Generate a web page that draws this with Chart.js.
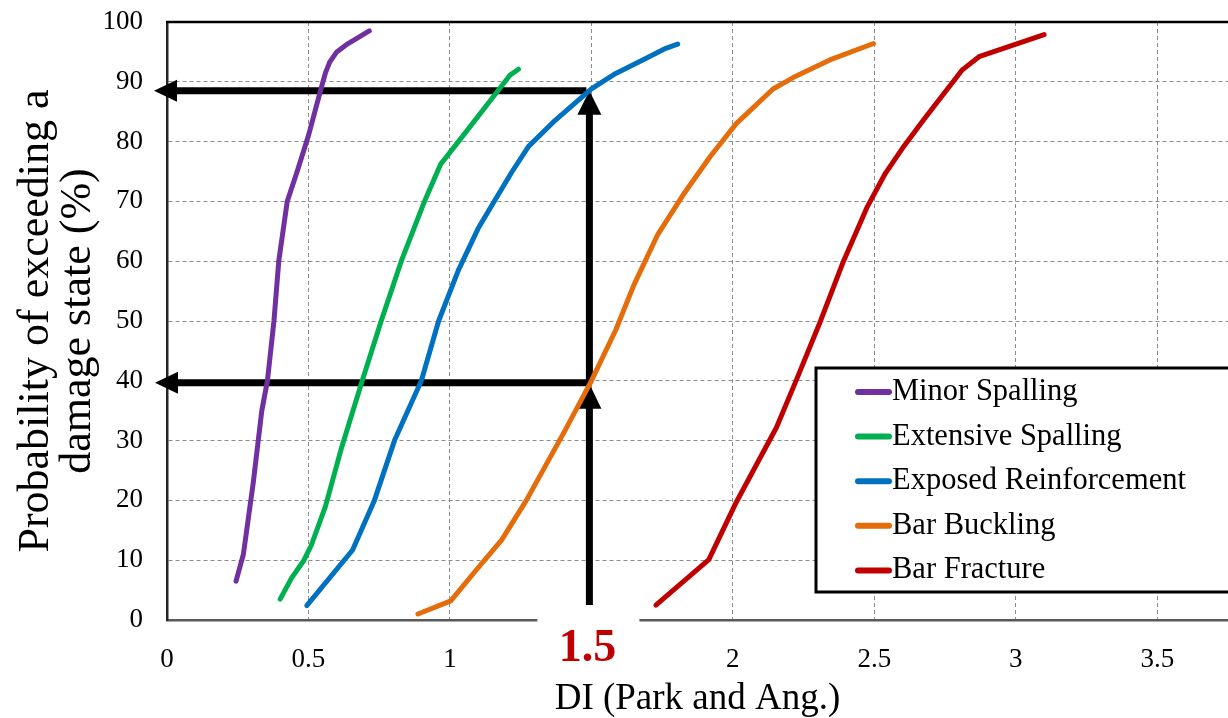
<!DOCTYPE html>
<html>
<head>
<meta charset="utf-8">
<script src="https://cdn.jsdelivr.net/npm/chart.js@4.4.1/dist/chart.umd.min.js"></script>
<style>
  html, body { margin: 0; padding: 0; background: #fff; }
  #wrap { width: 1228px; height: 718px; }
</style>
</head>
<body>
<div id="wrap"><canvas id="fragilityChart" width="1228" height="718"></canvas></div>
<script>
const SERIF = "'Liberation Serif', 'Times New Roman', serif";

// axis ticks
const X_TICKS = [0, 0.5, 1, 1.5, 2, 2.5, 3, 3.5];
const Y_TICKS = [0, 10, 20, 30, 40, 50, 60, 70, 80, 90, 100];
const X_MAX = 3.75;

// fragility curves: damage index (Park & Ang) vs probability of exceedance (%)
const minorDI = [0.244, 0.27, 0.305, 0.335, 0.355, 0.378, 0.395, 0.425, 0.46, 0.50, 0.543, 0.56, 0.575, 0.60, 0.64, 0.715];
const minorP  = [6.5, 11, 23, 35, 40, 50, 60, 70, 75, 81, 88.6, 91.5, 93.3, 95, 96.4, 98.5];

const extensiveDI = [0.40, 0.44, 0.484, 0.51, 0.56, 0.615, 0.69, 0.757, 0.828, 0.91, 0.967, 1.03, 1.171, 1.212, 1.242];
const extensiveP  = [3.5, 7, 10, 12.5, 19, 28.5, 40, 50, 60, 70, 76.2, 80, 88.6, 91.1, 92.1];

const exposedDI = [0.494, 0.656, 0.733, 0.804, 0.899, 0.96, 1.03, 1.1, 1.159, 1.22, 1.278, 1.373, 1.5, 1.586, 1.692, 1.763, 1.805];
const exposedP  = [2.4, 11.7, 20, 30, 40, 50, 58.5, 65.5, 70.2, 75, 79.2, 83.6, 88.8, 91.4, 93.9, 95.6, 96.3];

const bucklingDI = [0.887, 1.003, 1.09, 1.183, 1.27, 1.408, 1.5, 1.586, 1.65, 1.735, 1.83, 1.92, 2.012, 2.142, 2.213, 2.35, 2.497];
const bucklingP  = [1, 3.2, 8.2, 13.4, 20, 31.8, 40, 48.5, 56, 64.5, 71.5, 77.5, 83, 88.8, 90.7, 93.8, 96.4];

const fractureDI = [1.728, 1.915, 2.012, 2.154, 2.225, 2.308, 2.391, 2.474, 2.539, 2.604, 2.675, 2.811, 2.87, 3.1];
const fractureP  = [2.5, 10.1, 19.7, 32.2, 40.2, 49.8, 60, 69, 74.7, 79.2, 83.7, 92, 94.2, 97.9];

// read-off guide at DI = 1.5
const MARK_DI = 1.5;
const MARK_LOW = 40;
const MARK_HIGH = 88.5;
const ARROW_BASE = 2.5;

function points(di, p) {
  return di.map((d, i) => ({ x: d, y: p[i] }));
}

function series(label, di, p, color) {
  return {
    label: label,
    data: points(di, p),
    borderColor: color,
    backgroundColor: color,
    borderWidth: 5,
    borderCapStyle: 'round',
    borderJoinStyle: 'round',
    pointRadius: 0,
    tension: 0,
    fill: false
  };
}

function arrow(ctx, x1, y1, x2, y2, w, headLen, headHalf) {
  const len = Math.hypot(x2 - x1, y2 - y1);
  const ux = (x2 - x1) / len, uy = (y2 - y1) / len;
  const bx = x2 - ux * headLen, by = y2 - uy * headLen;
  ctx.lineWidth = w;
  ctx.lineCap = 'butt';
  ctx.beginPath();
  ctx.moveTo(x1, y1);
  ctx.lineTo(bx + ux, by + uy);
  ctx.stroke();
  ctx.beginPath();
  ctx.moveTo(x2, y2);
  ctx.lineTo(bx - uy * headHalf, by + ux * headHalf);
  ctx.lineTo(bx + uy * headHalf, by - ux * headHalf);
  ctx.closePath();
  ctx.fill();
}

const guidePlugin = {
  id: 'guides',
  beforeDatasetsDraw(chart) {
    const { ctx, chartArea: a, scales: { x, y } } = chart;
    ctx.save();
    // top frame
    ctx.strokeStyle = '#000';
    ctx.lineWidth = 2.5;
    ctx.beginPath();
    ctx.moveTo(a.left - 1, a.top);
    ctx.lineTo(a.right, a.top);
    ctx.stroke();

    const xm = x.getPixelForValue(MARK_DI);
    const yBase = y.getPixelForValue(ARROW_BASE);
    const yLow = y.getPixelForValue(MARK_LOW);
    const yHigh = y.getPixelForValue(MARK_HIGH);

    // gap in the axis under the highlighted value
    ctx.fillStyle = '#fff';
    ctx.fillRect(xm - 54, yBase - 1, 102, a.bottom - yBase + 7);

    ctx.fillStyle = '#000';
    ctx.strokeStyle = '#000';
    arrow(ctx, xm - 2, yBase, xm - 2, yLow + 3, 7, 25, 12);
    arrow(ctx, xm - 2, yLow, xm - 2, yHigh, 7, 24, 12);
    arrow(ctx, xm, yLow + 2, 155, yLow + 2, 7, 23, 11);
    arrow(ctx, xm - 5, yHigh, 154, yHigh, 7, 23, 11);
    ctx.restore();
  },
  afterDraw(chart) {
    const { ctx, scales: { x } } = chart;
    ctx.save();
    // highlighted DI value
    ctx.fillStyle = '#c00000';
    ctx.font = 'bold 46px ' + SERIF;
    ctx.textAlign = 'center';
    ctx.textBaseline = 'alphabetic';
    ctx.fillText(String(MARK_DI), x.getPixelForValue(MARK_DI) - 4, 661);

    // legend box
    const bx = 816, by = 368, bh = 224;
    ctx.fillStyle = '#fff';
    ctx.fillRect(bx, by, 500, bh);
    ctx.strokeStyle = '#000';
    ctx.lineWidth = 3;
    ctx.strokeRect(bx, by, 500, bh);
    ctx.font = '30.5px ' + SERIF;
    ctx.textAlign = 'left';
    ctx.textBaseline = 'middle';
    chart.data.datasets.forEach((ds, i) => {
      const yy = by + 24 + i * 44.6;
      ctx.strokeStyle = ds.borderColor;
      ctx.lineWidth = 6;
      ctx.lineCap = 'round';
      ctx.beginPath();
      ctx.moveTo(858, yy);
      ctx.lineTo(889, yy);
      ctx.stroke();
      ctx.fillStyle = '#000';
      ctx.fillText(ds.label, 892, yy);
    });
    ctx.restore();
  }
};

const gridColor = c => (c.tick && (c.tick.value === 0 || c.tick.value === 100)) ? 'rgba(0,0,0,0)' : '#8c8c8c';

new Chart(document.getElementById('fragilityChart'), {
  type: 'line',
  data: {
    datasets: [
      series('Minor Spalling', minorDI, minorP, '#7030a0'),
      series('Extensive Spalling', extensiveDI, extensiveP, '#00b050'),
      series('Exposed Reinforcement', exposedDI, exposedP, '#0070c0'),
      series('Bar Buckling', bucklingDI, bucklingP, '#e46c0a'),
      series('Bar Fracture', fractureDI, fractureP, '#c00000')
    ]
  },
  options: {
    responsive: false,
    animation: false,
    layout: { padding: { top: 22, right: 0, bottom: 0, left: 0 } },
    plugins: {
      legend: { display: false },
      tooltip: { enabled: false }
    },
    scales: {
      x: {
        type: 'linear',
        min: 0,
        max: X_MAX,
        afterBuildTicks: s => { s.ticks = X_TICKS.map(v => ({ value: v })); },
        afterFit: s => { s.height = 98; s.paddingLeft = 0; s.paddingRight = 0; },
        grid: { color: gridColor, lineWidth: 1, drawTicks: false },
        border: { display: true, color: '#595959', width: 2.5, dash: [4, 3] },
        ticks: {
          padding: 24,
          color: '#000',
          autoSkip: false,
          maxRotation: 0,
          font: { family: SERIF, size: 27 },
          callback: v => v === MARK_DI ? '' : String(v)
        },
        title: {
          display: true,
          text: 'DI (Park and Ang.)',
          color: '#000',
          font: { family: SERIF, size: 37, lineHeight: 1 },
          padding: 0
        }
      },
      y: {
        type: 'linear',
        min: 0,
        max: 100,
        afterBuildTicks: s => { s.ticks = Y_TICKS.map(v => ({ value: v })); },
        afterFit: s => { s.width = 167; s.paddingTop = 0; s.paddingBottom = 0; },
        grid: { color: gridColor, lineWidth: 1, drawTicks: false },
        border: { display: true, color: '#262626', width: 2.5, dash: [4, 3] },
        ticks: {
          padding: 24,
          color: '#000',
          font: { family: SERIF, size: 27 }
        },
        title: {
          display: true,
          text: ['Probability of exceeding a', 'damage state (%)'],
          color: '#000',
          font: { family: SERIF, size: 44, lineHeight: 0.96 },
          padding: { top: 15, bottom: 0 }
        }
      }
    }
  },
  plugins: [guidePlugin]
});
</script>
</body>
</html>
